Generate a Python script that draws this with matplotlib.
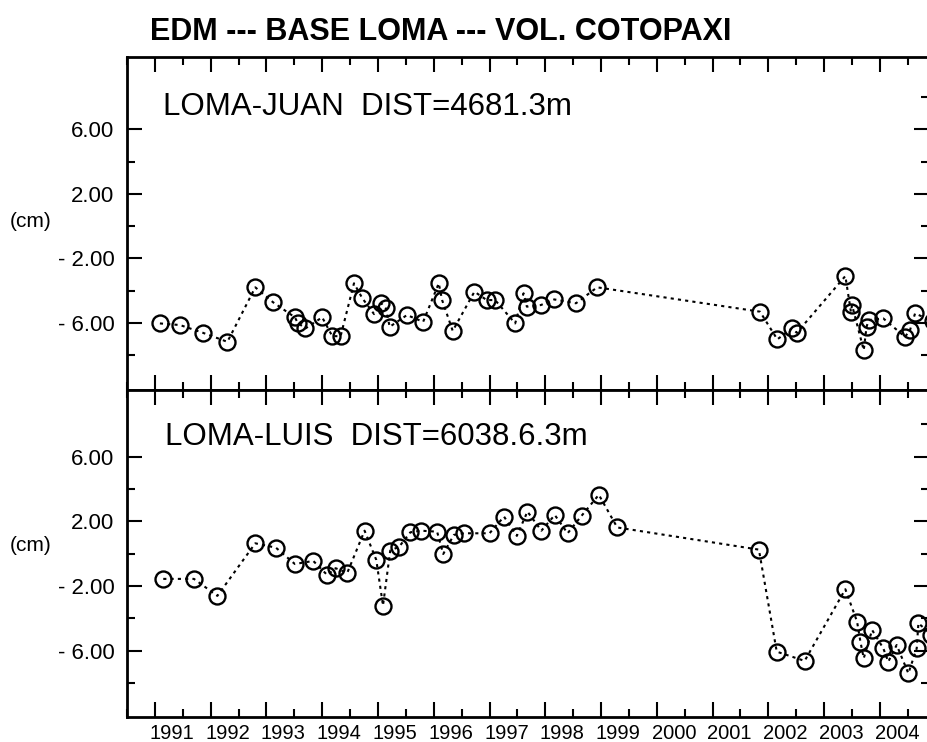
# EDM --- BASE LOMA --- VOL. COTOPAXI
# two stacked panels, distance change in cm vs time

import numpy as np
import matplotlib.pyplot as plt
from matplotlib.transforms import ScaledTranslation, blended_transform_factory

plt.rcParams['font.family'] = ['Liberation Sans', 'DejaVu Sans']

# LOMA-JUAN (years, cm)
juan_t = [1991.09, 1991.45, 1991.86, 1992.30, 1992.80, 1993.12, 1993.51, 1993.56,
          1993.70, 1994.00, 1994.18, 1994.33, 1994.57, 1994.72, 1994.93, 1995.06,
          1995.14, 1995.21, 1995.52, 1995.81, 1996.09, 1996.15, 1996.34, 1996.73,
          1996.95, 1997.10, 1997.46, 1997.61, 1997.67, 1997.92, 1998.16, 1998.55,
          1998.93, 2001.85, 2002.16, 2002.42, 2002.51, 2003.38, 2003.48, 2003.50,
          2003.71, 2003.76, 2003.80, 2004.06, 2004.45, 2004.54, 2004.63, 2004.95]
juan_v = [-6.04, -6.14, -6.62, -7.18, -3.80, -4.73, -5.66, -6.00,
          -6.35, -5.66, -6.83, -6.83, -3.55, -4.48, -5.46, -4.79,
          -5.10, -6.25, -5.52, -5.94, -3.55, -4.59, -6.50, -4.07,
          -4.59, -4.59, -6.04, -4.17, -5.00, -4.90, -4.55, -4.79,
          -3.80, -5.31, -7.03, -6.35, -6.62, -3.10, -5.32, -4.90,
          -7.70, -6.25, -5.83, -5.73, -6.87, -6.45, -5.42, -5.90]

# LOMA-LUIS (years, cm)
luis_t = [1991.15, 1991.70, 1992.12, 1992.80, 1993.17, 1993.51, 1993.84, 1994.09,
          1994.24, 1994.45, 1994.76, 1994.97, 1995.09, 1995.22, 1995.38, 1995.58,
          1995.77, 1996.06, 1996.17, 1996.36, 1996.54, 1997.00, 1997.26, 1997.49,
          1997.68, 1997.93, 1998.17, 1998.40, 1998.65, 1998.96, 1999.29, 2001.83,
          2002.15, 2002.65, 2003.38, 2003.59, 2003.65, 2003.71, 2003.86, 2004.06,
          2004.15, 2004.30, 2004.51, 2004.66, 2004.69, 2004.92]
luis_v = [-1.56, -1.56, -2.61, 0.64, 0.37, -0.64, -0.45, -1.32,
          -0.90, -1.18, 1.42, -0.39, -3.21, 0.19, 0.43, 1.32,
          1.42, 1.36, -0.02, 1.16, 1.26, 1.26, 2.29, 1.10,
          2.60, 1.42, 2.39, 1.26, 2.34, 3.64, 1.62, 0.25,
          -6.06, -6.63, -2.20, -4.20, -5.44, -6.47, -4.72, -5.85,
          -6.68, -5.65, -7.40, -5.85, -4.30, -5.00]

years = list(range(1991, 2005))
half_years = [y - 0.5 for y in range(1991, 2006)]
yt_major = [6, 2, -2, -6]
yt_labels = ['6.00', '2.00', '- 2.00', '- 6.00']
yt_minor = [-8, -4, 0, 4]

fig = plt.figure(figsize=(9.28, 7.42), dpi=100)
ax1 = fig.add_axes([127 / 928, 1 - 390 / 742, 802 / 928, 333 / 742])
ax2 = fig.add_axes([127 / 928, 1 - 717 / 742, 802 / 928, 327 / 742])


def setup(ax, ylim, show_years):
    ax.set_xlim(1990.56, 2004.88)
    ax.set_ylim(*ylim)
    ax.set_xticks(years)
    ax.set_xticks(half_years, minor=True)
    ax.set_yticks(yt_major, yt_labels)
    ax.set_yticks(yt_minor, minor=True)
    ax.tick_params(which='both', direction='in', top=True, bottom=True,
                   left=True, right=False, width=1.5, color='black')
    ax.tick_params(which='major', length=11)
    ax.tick_params(which='minor', length=5.5)
    ax.tick_params(axis='y', labelsize=16, pad=9)
    for s in ax.spines.values():
        s.set_linewidth(2)
    # right side has one more minor tick at 8
    sec = ax.secondary_yaxis('right')
    sec.set_yticks(yt_major)
    sec.set_yticks(yt_minor + [8], minor=True)
    sec.tick_params(which='both', direction='in', width=1.5, labelright=False)
    sec.tick_params(which='major', length=11)
    sec.tick_params(which='minor', length=5.5)
    if show_years:
        ax.set_xticklabels([str(y) for y in years])
        ax.tick_params(axis='x', labelsize=14.5, pad=5)
        off = ScaledTranslation(0.17, 0, fig.dpi_scale_trans)
        for lab in ax.get_xticklabels():
            lab.set_transform(lab.get_transform() + off)
    else:
        ax.tick_params(axis='x', labelbottom=False)


setup(ax1, (-10.17, 10.49), False)
setup(ax2, (-10.10, 10.12), True)

style = dict(color='black', linestyle=(0, (1.5, 2)), linewidth=1.5,
             marker='o', markersize=11.5, markerfacecolor='none',
             markeredgecolor='black', markeredgewidth=1.7)
ax1.plot(juan_t, juan_v, **style)
ax2.plot(luis_t, luis_v, **style)

ax1.text(0.045, 0.826, 'LOMA-JUAN  DIST=4681.3m', transform=ax1.transAxes,
         fontsize=22.5, va='baseline', ha='left')
ax2.text(0.047, 0.832, 'LOMA-LUIS  DIST=6038.6.3m', transform=ax2.transAxes,
         fontsize=22.5, va='baseline', ha='left')

for ax, yv in [(ax1, 0.3), (ax2, 0.5)]:
    tr = blended_transform_factory(fig.transFigure, ax.transData)
    ax.text(31 / 928, yv, '(cm)', transform=tr, fontsize=15,
            ha='center', va='center')

fig.text(0.475, 1 - 40 / 742, 'EDM --- BASE LOMA --- VOL. COTOPAXI',
         fontsize=22, fontweight='bold', ha='center', va='baseline')

fig.savefig('out.png', dpi=100)
